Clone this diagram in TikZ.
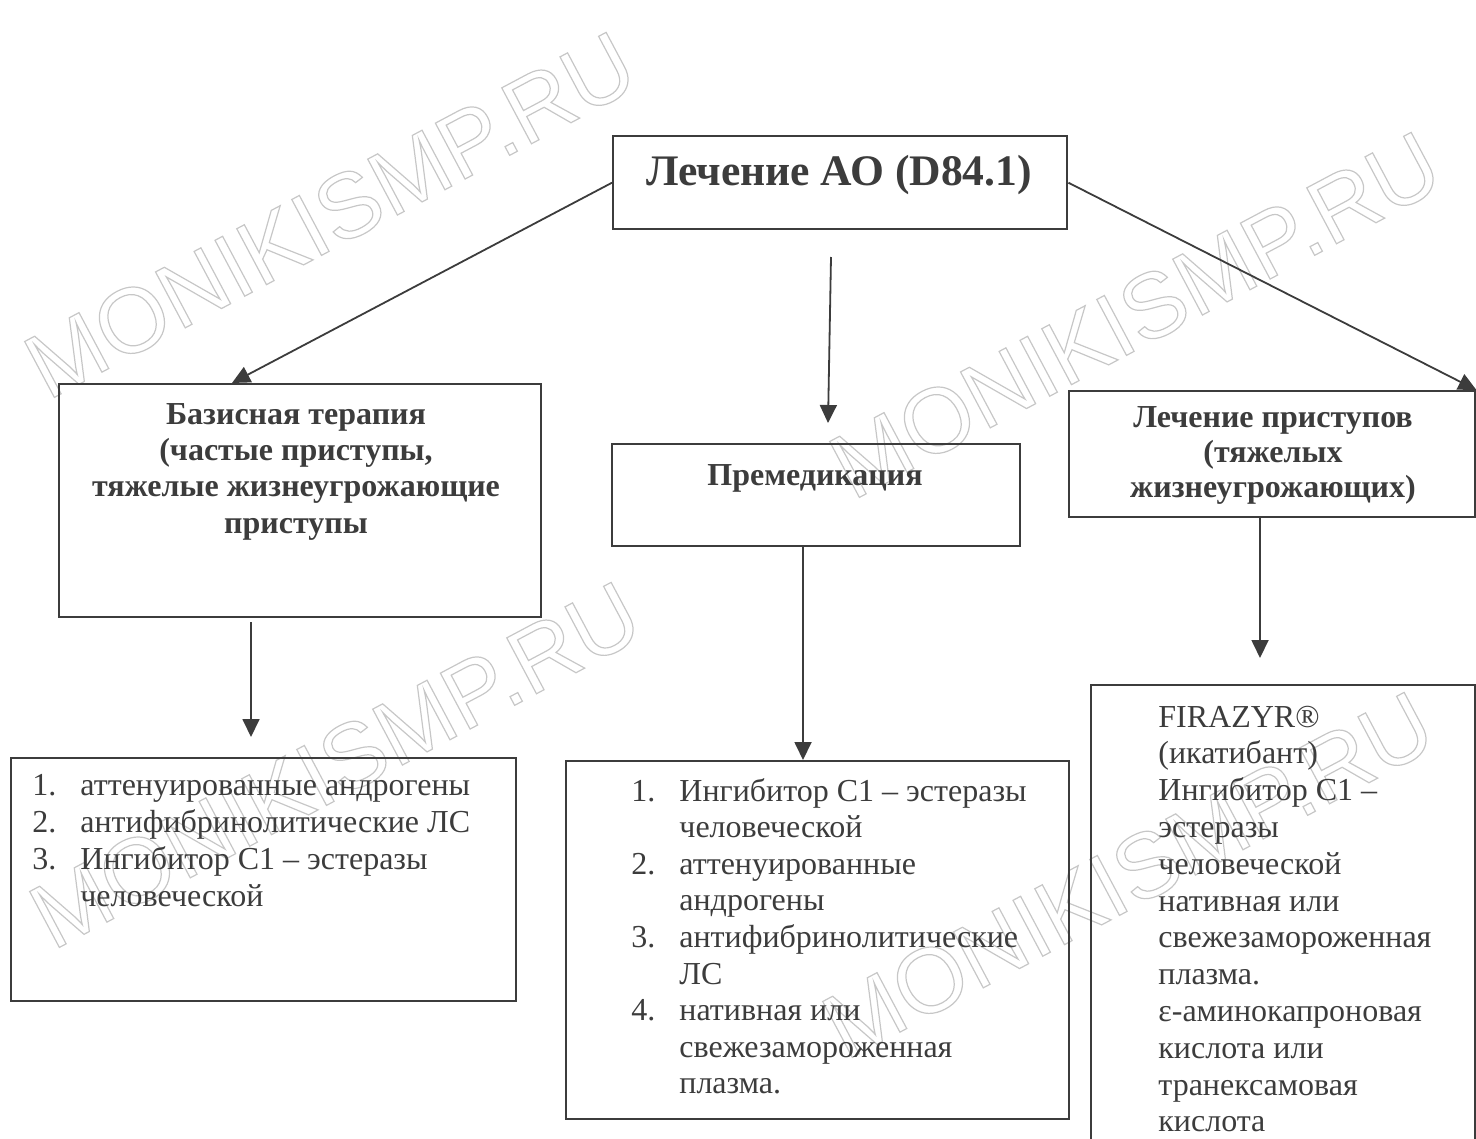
\documentclass[tikz,border=0pt]{standalone}
\usepackage{fontspec}
\setmainfont{Liberation Serif}
\newfontfamily\wmfont{Liberation Sans}
\usetikzlibrary{arrows.meta}

\definecolor{ink}{HTML}{3C3C3C}
\newcommand\outlined[1]{\special{pdf:literal direct 1 Tr 0.6 w}#1\special{pdf:literal direct 0 Tr}}
\tikzset{
  box/.style={draw=ink, line width=1.2pt, inner sep=0pt, anchor=north west},
  txt/.style={text=ink, inner sep=0pt},
  head/.style={txt, font=\bfseries\fontsize{16}{18.2}\selectfont},
  item/.style={txt, anchor=base west},
  link/.style={draw=ink, line width=0.9pt, -{Triangle[length=9pt,width=8.5pt]}},
  wm/.style={text=black!22, font=\wmfont\fontsize{46}{46}\selectfont, rotate=28}
}

\begin{document}
\begin{tikzpicture}[x=0.5pt,y=-0.5pt]
  \useasboundingbox (0,0) rectangle (1476,1139);
  \clip (0,0) rectangle (1476,1139);
  % watermark
  \foreach \wx/\wy in {330/215,1135/315,335/765,1128/875}
    \node[wm] (wm-\wx) at (\wx,\wy) {\outlined{MONIKISMP.RU}};

  % boxes
  \node[box, minimum width=227pt, minimum height=46.5pt] (top) at (612,135) {};
  \node[box, minimum width=241pt, minimum height=116.5pt] (basis) at (58,383) {};
  \node[box, minimum width=204pt, minimum height=51pt] (premed) at (611,443) {};
  \node[box, minimum width=203pt, minimum height=63pt] (attack) at (1068,390) {};
  \node[box, minimum width=252.5pt, minimum height=121.5pt] (list1) at (10,757) {};
  \node[box, minimum width=251.5pt, minimum height=179pt] (list2) at (565,760) {};
  \node[box, minimum width=192pt, minimum height=238pt] (list3) at (1090,684) {};

  % headings
  \node[txt, font=\bfseries\fontsize{21.8}{24}\selectfont, anchor=base] (toptext) at (839,186) {Лечение АО (D84.1)};
  \node[head, anchor=base] (basistext) at (296,424) {\begin{tabular}[t]{@{}c@{}}Базисная терапия\\ (частые приступы,\\ тяжелые жизнеугрожающие\\ приступы\end{tabular}};
  \node[head, anchor=base] (premedtext) at (815,485) {Премедикация};
  \node[head, font=\bfseries\fontsize{16}{17.5}\selectfont, anchor=base] (attacktext) at (1273,427) {\begin{tabular}[t]{@{}c@{}}Лечение приступов\\ (тяжелых\\ жизнеугрожающих)\end{tabular}};

  % lists
  \node[item, font=\fontsize{16}{18.6}\selectfont] (list1text) at (32,795) {\begin{tabular}[t]{@{}p{24pt}@{}l@{}}
    1. & аттенуированные андрогены\\
    2. & антифибринолитические ЛС\\
    3. & Ингибитор С1 – эстеразы\\
       & человеческой
  \end{tabular}};
  \node[item, font=\fontsize{16}{18.3}\selectfont] (list2text) at (631,801) {\begin{tabular}[t]{@{}p{24pt}@{}l@{}}
    1. & Ингибитор С1 – эстеразы\\
       & человеческой\\
    2. & аттенуированные\\
       & андрогены\\
    3. & антифибринолитические\\
       & ЛС\\
    4. & нативная или\\
       & свежезамороженная\\
       & плазма.
  \end{tabular}};
  \node[item, font=\fontsize{16}{18.4}\selectfont] (list3text) at (1158,727) {\begin{tabular}[t]{@{}l@{}}
    FIRAZYR®\\
    (икатибант)\\
    Ингибитор С1 –\\
    эстеразы\\
    человеческой\\
    нативная или\\
    свежезамороженная\\
    плазма.\\
    ε-аминокапроновая\\
    кислота или\\
    транексамовая\\
    кислота
  \end{tabular}};

  % arrows
  \coordinate (basisin) at (232,383);
  \coordinate (premedfrom) at (831,257);
  \coordinate (premedto) at (828,423);
  \coordinate (basisout) at (251,622);
  \coordinate (list1in) at (251,737);
  \coordinate (list2in) at (803,760);
  \coordinate (list3in) at (1260,658);
  \draw[link] (top.west) -- (basisin);
  \draw[link] (top.east) -- (attack.north east);
  \draw[link] (premedfrom) -- (premedto);
  \draw[link] (basisout) -- (list1in);
  \draw[link] (premed.south -| list2in) -- (list2in);
  \draw[link] (attack.south -| list3in) -- (list3in);
\end{tikzpicture}
\end{document}
